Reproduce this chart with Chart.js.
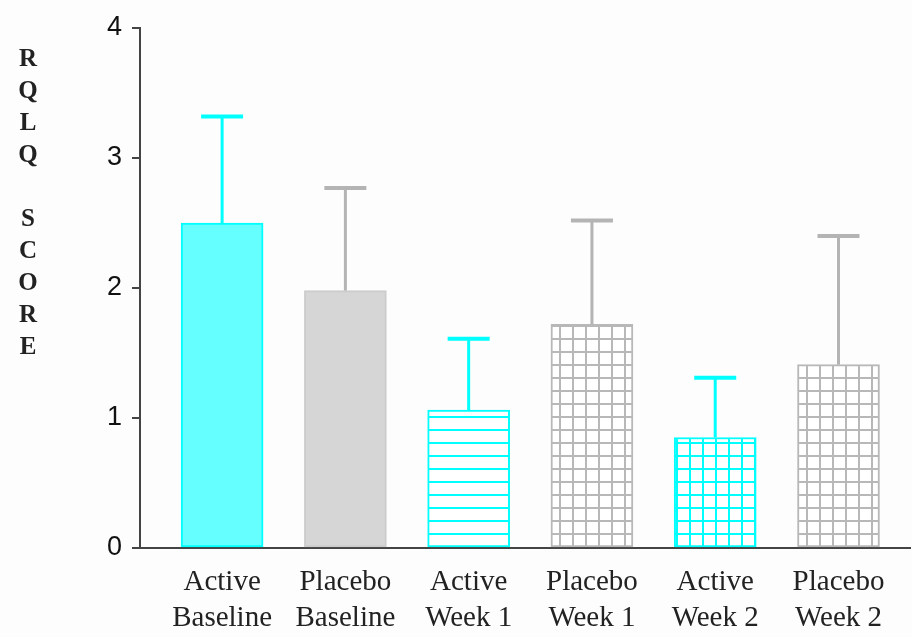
<!DOCTYPE html>
<html lang="en">
<head>
    <meta charset="UTF-8">
    <title>RQLQ Score</title>
    <script src="https://cdn.jsdelivr.net/npm/chart.js@4.4.0/dist/chart.umd.min.js"></script>
    <style>
        html, body { margin: 0; padding: 0; background: #fdfdfd; }
        #wrap { position: relative; width: 912px; height: 637px; }
        #ytitle {
            position: absolute; left: 12px; top: 42px; width: 32px;
            font: bold 25px 'Liberation Serif', serif; line-height: 32px;
            text-align: center; color: #222;
        }
    </style>
</head>
<body>
<div id="wrap">
    <canvas id="rqlq_canvas" width="912" height="637"></canvas>
    <div id="ytitle">R<br>Q<br>L<br>Q<br>&nbsp;<br>S<br>C<br>O<br>R<br>E</div>
</div>
<script>
    // values
    const groups = ['Active', 'Placebo', 'Active', 'Placebo', 'Active', 'Placebo'];
    const visits = ['Baseline', 'Baseline', 'Week 1', 'Week 1', 'Week 2', 'Week 2'];
    const means = [2.50, 1.98, 1.06, 1.72, 0.85, 1.41];
    const upperErr = [3.32, 2.77, 1.61, 2.52, 1.31, 2.40];
    const yTicks = [0, 1, 2, 3, 4];

    const CYAN = '#00ffff';

    function makePattern(color, horiz, vert, step) {
        const c = document.createElement('canvas');
        c.width = step;
        c.height = step;
        const g = c.getContext('2d');
        g.fillStyle = '#ffffff';
        g.fillRect(0, 0, step, step);
        g.fillStyle = color;
        if (horiz) g.fillRect(0, 0, step, 2);
        if (vert) g.fillRect(0, 0, 2, step);
        return g.createPattern(c, 'repeat');
    }

    const fills = [
        '#66ffff',
        '#d6d6d6',
        makePattern(CYAN, true, false, 13),
        makePattern('#b8b8b8', true, true, 13),
        makePattern(CYAN, true, true, 13),
        makePattern('#b8b8b8', true, true, 13)
    ];
    const borders = [CYAN, '#cccccc', CYAN, '#b8b8b8', CYAN, '#b8b8b8'];
    const errColors = [CYAN, '#b4b4b4', CYAN, '#b4b4b4', CYAN, '#b4b4b4'];

    const errorBars = {
        id: 'errorBars',
        afterDatasetsDraw(chart) {
            const ctx = chart.ctx;
            const xs = chart.scales.x, ys = chart.scales.y;
            ctx.save();
            ctx.lineCap = 'butt';
            for (let i = 0; i < means.length; i++) {
                const x = xs.getPixelForValue(i);
                const y0 = ys.getPixelForValue(means[i]);
                const y1 = ys.getPixelForValue(upperErr[i]);
                ctx.strokeStyle = errColors[i];
                ctx.lineWidth = 3;
                ctx.beginPath();
                ctx.moveTo(x, y0);
                ctx.lineTo(x, y1);
                ctx.stroke();
                ctx.lineWidth = 4;
                ctx.beginPath();
                ctx.moveTo(x - 21, y1);
                ctx.lineTo(x + 21, y1);
                ctx.stroke();
            }
            ctx.restore();
        }
    };

    new Chart(document.getElementById('rqlq_canvas').getContext('2d'), {
        type: 'bar',
        data: {
            datasets: [{
                data: means.map((v, i) => ({x: i, y: v})),
                backgroundColor: fills,
                borderColor: borders,
                borderWidth: 2,
                borderSkipped: false,
                barThickness: 82
            }]
        },
        options: {
            responsive: false,
            animation: false,
            events: [],
            layout: {padding: {top: 28, right: 2, left: 0, bottom: 0}},
            plugins: {legend: {display: false}, tooltip: {enabled: false}},
            scales: {
                x: {
                    type: 'linear',
                    offset: false,
                    min: -0.666,
                    max: 5.58,
                    afterBuildTicks: (scale) => {
                        scale.ticks = groups.map((g, i) => ({value: i}));
                    },
                    afterFit: (scale) => { scale.height = 89; },
                    grid: {display: false},
                    border: {display: true, color: '#444444', width: 2},
                    ticks: {
                        autoSkip: false,
                        maxRotation: 0,
                        padding: 8,
                        color: '#222222',
                        font: {family: 'Liberation Serif', size: 29, lineHeight: 1.25},
                        callback: (v) => [groups[v], visits[v]]
                    }
                },
                y: {
                    min: 0,
                    max: 4,
                    afterBuildTicks: (scale) => {
                        scale.ticks = yTicks.map(v => ({value: v}));
                    },
                    afterFit: (scale) => { scale.width = 140; },
                    grid: {drawOnChartArea: false, drawTicks: true, tickLength: 8, color: '#444444', lineWidth: 2},
                    border: {display: true, color: '#444444', width: 2},
                    ticks: {
                        padding: 10,
                        color: '#111111',
                        font: {family: 'Liberation Sans', size: 27}
                    }
                }
            }
        },
        plugins: [errorBars]
    });
</script>
</body>
</html>
